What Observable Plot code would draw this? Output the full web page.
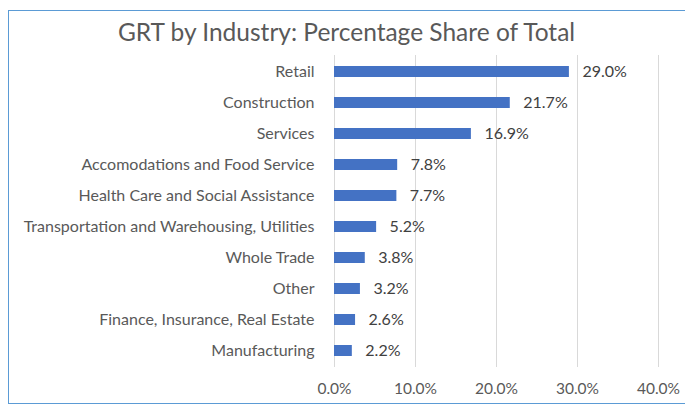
<!DOCTYPE html>
<html>
<head>
<meta charset="utf-8">
<script src="https://cdn.jsdelivr.net/npm/d3@7"></script>
<script src="https://cdn.jsdelivr.net/npm/@observablehq/plot@0.6"></script>
<style>
  html, body { margin: 0; padding: 0; background: #fff; overflow: hidden; }
  #frame { position: absolute; left: 8px; top: 10px; width: 700px; height: 394px; border: 1.5px solid #5B9BD5; box-sizing: border-box; }
  #wrap { position: absolute; left: 0; top: 0; width: 685px; height: 407px; }
  #title { height: 48px; box-sizing: border-box; padding-top: 17px; padding-left: 8px; text-align: center; font-family: Lato, "Open Sans", sans-serif; font-size: 24.5px; color: #595959; line-height: 30px; white-space: nowrap; }
  svg { display: block; }
</style>
</head>
<body>
<div id="frame"></div>
<div id="wrap">
  <div id="title">GRT by Industry: Percentage Share of Total</div>
  <div id="chart"></div>
</div>
<script>
const categories = [
  "Retail",
  "Construction",
  "Services",
  "Accomodations and Food Service",
  "Health Care and Social Assistance",
  "Transportation and Warehousing, Utilities",
  "Whole Trade",
  "Other",
  "Finance, Insurance, Real Estate",
  "Manufacturing"
];
const shares = [0.290, 0.217, 0.169, 0.078, 0.077, 0.052, 0.038, 0.032, 0.026, 0.022];
const xTicks = [0, 0.1, 0.2, 0.3, 0.4];

const data = categories.map((c, i) => ({category: c, share: shares[i]}));
const fmt = d3.format(".1%");

const chart = Plot.plot({
  width: 685,
  height: 359,
  marginTop: 7,
  marginBottom: 40,
  marginLeft: 334,
  marginRight: 27,
  style: {fontFamily: "Lato, 'Open Sans', sans-serif", fontSize: "16px", color: "#595959", background: "transparent"},
  x: {domain: [0, 0.4], ticks: xTicks, tickFormat: fmt, label: null},
  y: {domain: categories, label: null, paddingInner: 0.65, paddingOuter: 0.325},
  marks: [
    Plot.gridX(xTicks, {stroke: "#d9d9d9", strokeOpacity: 1, strokeWidth: 1}),
    Plot.axisX({ticks: xTicks, tickFormat: fmt, tickSize: 0, tickPadding: 15, fontSize: 15.5, fill: "#595959", label: null}),
    Plot.axisY({tickSize: 0, tickPadding: 20, fontSize: 16, fill: "#595959", label: null}),
    Plot.barX(data, {x: "share", y: "category", fill: "#4472C4"}),
    Plot.text(data, {x: "share", y: "category", text: d => fmt(d.share), textAnchor: "start", dx: 13, fill: "#404040", fontSize: 16})
  ]
});
document.getElementById("chart").appendChild(chart);
</script>
</body>
</html>
